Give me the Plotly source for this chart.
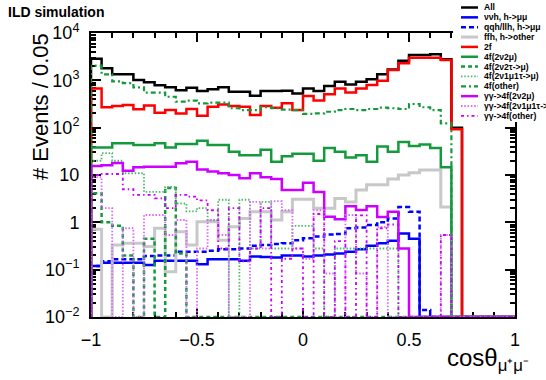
import numpy as np
import plotly.graph_objects as go

# ---- binning: cos(theta_mumu) in 40 bins of 0.05 ----
N_BINS = 40
X_LO, X_HI = -1.0, 1.0
Y_FLOOR = 1e-2          # empty bins are drawn on the frame bottom

# ---- event counts per bin ----
all_events = [2860, 1800, 1350, 1350, 1020, 910, 785, 710, 620, 700,
              595, 650, 710, 575, 575, 475, 595, 595, 600, 530,
              675, 595, 760, 935, 820, 935, 1050, 1340, 1700, 2600,
              3430, 3430, 3550, 2780, 100, 0, 0, 0, 0, 0]
nnh_mumu = [0.12, 0.14, 0.14, 0.14, 0.14, 0.125, 0.155, 0.155, 0.155, 0.155,
            0.13, 0.166, 0.166, 0.166, 0.155, 0.19, 0.185, 0.18, 0.2, 0.2,
            0.19, 0.2, 0.21, 0.22, 0.24, 0.27, 0.32, 0.36, 0.41, 0.58,
            0.45, 0, 0, 0, 0, 0, 0, 0, 0, 0]
qqh_llh_mumu = [0.12, 0.15, 0.165, 0.165, 0.165, 0.195, 0.2, 0.2, 0.24, 0.24,
                0.24, 0.25, 0.27, 0.27, 0.28, 0.32, 0.33, 0.35, 0.36, 0.42,
                0.46, 0.5, 0.55, 0.57, 0.75, 0.78, 0.88, 1.01, 1.2, 2.1,
                1.67, 0.014, 0, 0, 0, 0, 0, 0, 0, 0]
ffh_other = [0.71, 0, 0.33, 0.36, 0.36, 0.31, 0.75, 0.09, 0.63, 0.33,
             1.03, 1.03, 0.42, 0.81, 1.2, 1.67, 1.67, 1.12, 1.67, 3.06,
             3.06, 1.98, 1.98, 3.2, 2.7, 4.8, 6.2, 6.2, 8.2, 10.0,
             11.2, 12.8, 12.8, 2.1, 0, 0, 0, 0, 0, 0]
two_f = [670, 270, 287, 300, 245, 295, 207, 235, 200, 248,
         179, 277, 310, 287, 277, 185, 287, 264, 327, 235,
         465, 373, 507, 675, 550, 675, 795, 980, 1650, 2290,
         3000, 3000, 3000, 2690, 93, 0, 0, 0, 0, 0]
four_f_2n2mu = [38, 38, 47, 47, 43, 43, 47, 38, 45, 45,
                53, 43, 43, 31, 26, 26, 34, 19, 25, 28,
                28, 20, 37, 31, 23.5, 26, 19, 40, 31, 50,
                41, 44, 37, 14.5, 0, 0, 0, 0, 0, 0]
four_f_2n2tau = [4.1, 1.0, 0.85, 0.2, 0, 0.45, 0, 5.3, 0.22, 0,
                 0, 0, 0, 0, 0, 0, 0, 0, 0, 0,
                 0, 0, 0, 0, 0, 0, 0, 0, 0, 0,
                 0, 0, 0, 0, 0, 0, 0, 0, 0, 0]
four_f_2n1mu1tau = [20, 29, 20, 10.9, 10.9, 4.4, 4.4, 5.6, 2.5, 1.7,
                    2.0, 1.1, 3.0, 0, 3.0, 0.28, 2.7, 0.28, 0.28, 0.84,
                    0.84, 0.28, 0, 0.28, 0.28, 0.28, 0.28, 0.28, 0.28, 0,
                    0, 0, 0, 0, 0, 0, 0, 0, 0, 0]
four_f_other = [2040, 1340, 950, 870, 710, 550, 550, 450, 355, 373,
                327, 338, 338, 257, 235, 235, 270, 257, 240, 235,
                195, 200, 217, 235, 248, 235, 248, 264, 257, 248,
                316, 270, 235, 123, 0, 0, 0, 0, 0, 0]
gg_2n2mu = [15.5, 16, 18, 12.3, 14.5, 15, 15, 15, 17.7, 19,
            13, 11.8, 10.9, 10, 8.5, 10.9, 9, 8.2, 4.8, 4.8,
            6.9, 4.4, 1.32, 1.16, 2.2, 1.82, 2.2, 1.3, 1.67, 0.28,
            0, 0, 0, 0, 0, 0, 0, 0, 0, 0]
gg_2n1mu1tau = [9.0, 2.0, 0, 0.75, 0, 1.43, 1.43, 0.54, 1.12, 0,
                0.28, 1.12, 0.54, 0, 0, 2.7, 0.28, 2.8, 1.8, 0.28,
                0.17, 1.8, 0.083, 0, 1.43, 0.083, 0, 0.8, 0, 0,
                0, 0, 0, 0.54, 0, 0, 0, 0, 0, 0]
gg_other = [10, 10.5, 10.5, 5.0, 3.8, 3.8, 3.2, 2.0, 3.8, 3.5,
            2.9, 1.8, 0.28, 2.0, 0.15, 0.28, 2.0, 0, 0.17, 0.28,
            0, 1.5, 0, 0.4, 0, 1.4, 0, 0.75, 0.9, 0,
            0, 0, 0, 0.54, 0, 0, 0, 0, 0, 0]

labels = ["All", "\u03bd\u03bdh, h->\u03bc\u03bc", "qqh/llh, h->\u03bc\u03bc",
          "ffh, h->other", "2f", "4f(2\u03bd2\u03bc)", "4f(2\u03bd2\u03c4->\u03bc)",
          "4f(2\u03bd1\u03bc1\u03c4->\u03bc)", "4f(other)",
          "\u03b3\u03b3->4f(2\u03bd2\u03bc)", "\u03b3\u03b3->4f(2\u03bd1\u03bc1\u03c4->\u03bc)",
          "\u03b3\u03b3->4f(other)"]
series = [all_events, nnh_mumu, qqh_llh_mumu, ffh_other, two_f, four_f_2n2mu,
          four_f_2n2tau, four_f_2n1mu1tau, four_f_other, gg_2n2mu,
          gg_2n1mu1tau, gg_other]

x_tick_vals = [-1, -0.5, 0, 0.5, 1]
x_tick_text = ["\u22121", "\u22120.5", "0", "0.5", "1"]
y_tick_vals = [1e-2, 1e-1, 1, 10, 1e2, 1e3, 1e4]
y_tick_text = ["10<sup>\u22122</sup>", "10<sup>\u22121</sup>", "1", "10",
               "10<sup>2</sup>", "10<sup>3</sup>", "10<sup>4</sup>"]

# ---- line styles, one per sample ----
GREEN = "#149a3c"
LGREEN = "#4cb86a"
VIOLET = "#cc00ff"
LVIOLET = "#dd66ff"
styles = [
    dict(color="#000000", width=2.5, dash="solid"),
    dict(color="#0000ff", width=2.5, dash="solid"),
    dict(color="#0000ff", width=2.5, dash="5px,3px"),
    dict(color="#c8c8c8", width=3, dash="solid"),
    dict(color="#ff0000", width=2.5, dash="solid"),
    dict(color=GREEN, width=2.5, dash="solid"),
    dict(color=GREEN, width=2.5, dash="4px,3px"),
    dict(color=LGREEN, width=1.8, dash="1.5px,1.8px"),
    dict(color=GREEN, width=2.2, dash="5px,3px,2px,3px"),
    dict(color=VIOLET, width=2.5, dash="solid"),
    dict(color=LVIOLET, width=1.8, dash="1.5px,1.8px"),
    dict(color=VIOLET, width=1.8, dash="3px,3px,1.5px,3px"),
]


def step_outline(vals):
    """Histogram outline starting and ending on the frame floor."""
    edges = np.linspace(X_LO, X_HI, N_BINS + 1)
    v = np.maximum(np.asarray(vals, dtype=float), Y_FLOOR)
    xs = np.concatenate([[X_LO], edges[:-1], [X_HI, X_HI]])
    ys = np.concatenate([[Y_FLOOR], v, [v[-1], Y_FLOOR]])
    return xs, ys


fig = go.Figure()
for name, vals, st in zip(labels, series, styles):
    xs, ys = step_outline(vals)
    fig.add_trace(go.Scatter(x=xs, y=ys, mode="lines", name=name,
                             line=dict(shape="hv", **st), showlegend=False,
                             hoverinfo="skip"))

# ---- page geometry (pixels) ----
W, H = 546, 380
L, R, T, B = 91, 515, 33, 317
PW, PH = R - L, B - T


def px(xp):
    return (xp - L) / PW


def py(yp):
    return (B - yp) / PH


FONT = "Liberation Sans, Arial, Helvetica, sans-serif"

axis_common = dict(showline=True, linecolor="black", linewidth=2, mirror="allticks",
                   ticks="inside", tickcolor="black", showgrid=False, zeroline=False,
                   layer="below traces", tickfont=dict(family=FONT, size=18, color="black"))

fig.update_xaxes(range=[X_LO, X_HI], tickmode="array", tickvals=x_tick_vals,
                 ticktext=x_tick_text, ticklen=9, tickwidth=1.5,
                 minor=dict(ticks="inside", ticklen=5, tickwidth=1.5, dtick=0.1,
                            tick0=-1, tickcolor="black"),
                 ticklabelstandoff=5, **axis_common)

minor_y = [k * 10.0 ** n for n in range(-2, 4) for k in range(2, 10)]
fig.update_yaxes(type="log", range=[-2, 4], tickmode="array", tickvals=y_tick_vals,
                 ticktext=y_tick_text, ticklen=10, tickwidth=1.5,
                 minor=dict(ticks="inside", ticklen=5, tickwidth=1.5, tickmode="array",
                            tickvals=minor_y, tickcolor="black"),
                 ticklabelstandoff=6, **axis_common)

shapes = []
annotations = []

# legend panel (opaque, sits over the frame corner)
shapes.append(dict(type="rect", xref="paper", yref="paper", layer="above",
                   x0=px(453), x1=px(560), y0=py(122), y1=py(-5),
                   fillcolor="white", line=dict(width=0)))
row0, row_step = 7.5, 9.85
for i, (name, st) in enumerate(zip(labels, styles)):
    yr = py(row0 + i * row_step)
    shapes.append(dict(type="line", xref="paper", yref="paper", layer="above",
                       x0=px(461), x1=px(478), y0=yr, y1=yr,
                       line=dict(color=st["color"], width=st["width"], dash=st["dash"])))
    annotations.append(dict(text="<b>%s</b>" % name, xref="paper", yref="paper",
                            x=px(482), y=yr, xanchor="left", yanchor="middle",
                            showarrow=False, font=dict(family=FONT, size=8.6, color="black")))

annotations.append(dict(text="<b>ILD simulation</b>", xref="paper", yref="paper",
                        x=px(6), y=py(12), xanchor="left", yanchor="middle",
                        showarrow=False, font=dict(family=FONT, size=14, color="black")))
annotations.append(dict(text="# Events / 0.05", xref="paper", yref="paper",
                        x=px(40), y=py(107), xanchor="center", yanchor="middle",
                        textangle=-90, showarrow=False,
                        font=dict(family=FONT, size=22, color="black")))
annotations.append(dict(text="cos\u03b8<sub>\u03bc\u207a\u03bc\u207b</sub>", xref="paper",
                        yref="paper", x=px(531), y=py(359), xanchor="right",
                        yanchor="middle", showarrow=False,
                        font=dict(family=FONT, size=24, color="black")))

fig.update_layout(width=W, height=H, margin=dict(l=L, r=W - R, t=T, b=H - B),
                  paper_bgcolor="white", plot_bgcolor="white", showlegend=False,
                  shapes=shapes, annotations=annotations,
                  font=dict(family=FONT, color="black"))

fig.write_html("out.html")
